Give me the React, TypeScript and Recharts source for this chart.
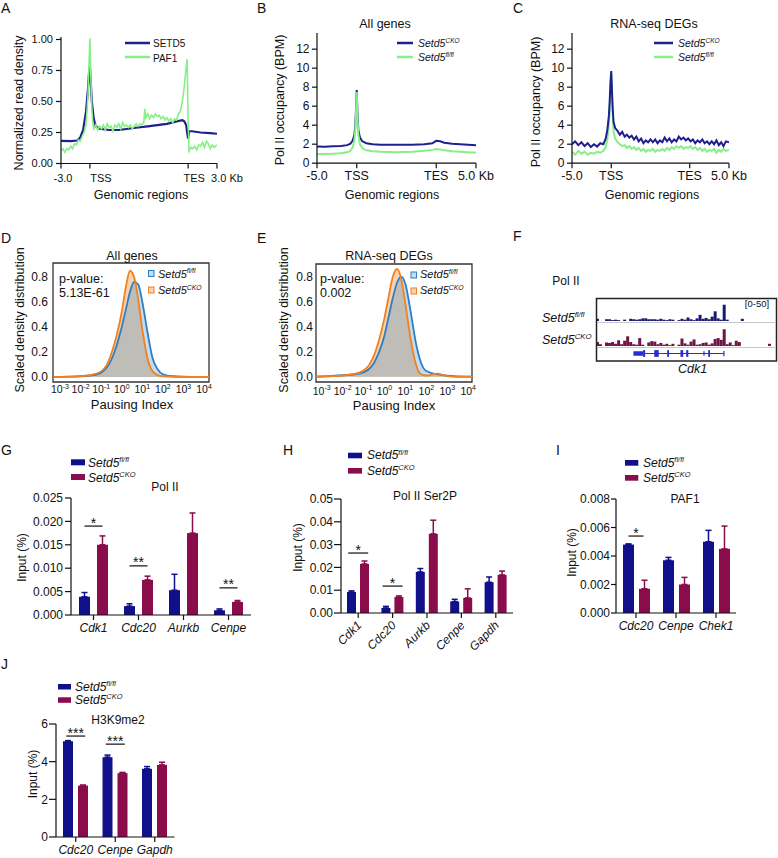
import React from "react";
import {
  LineChart,
  Line,
  XAxis,
  YAxis,
  ComposedChart,
  Area,
  BarChart,
  Bar,
  ErrorBar,
  ReferenceDot,
  ReferenceArea,
  ReferenceLine,
} from "recharts";

const FONT = "'Liberation Sans', Arial, Helvetica, sans-serif";
const INK = "#111";
const NAVY = "#1f1f8f";
const LIME = "#86ef86";
const BAR_FL = "#10108a";
const BAR_CKO = "#8a0c4a";
const D_BLUE = "#2e7ec4";
const D_ORANGE = "#f2801e";
const D_BLUE_FILL = "#c2dcf0";
const D_ORANGE_FILL = "#f8d3b2";
const D_OVERLAP = "#bfbdb7";
const TRACK_FL = "#1a1a70";
const TRACK_CKO = "#701443";
const GENE = "#2b2bd0";
const AX = { stroke: INK, strokeWidth: 1.2 };

// ---------- A: metagene SETD5 / PAF1 (bins: -3kb=0, TSS=30, TES=132, +3kb=162)
const aTicks = [0, 30, 132, 162];
const aTickNames = ["-3.0", "TSS", "TES", "3.0 Kb"];
const aYTicks = [0, 0.25, 0.5, 0.75, 1.0];
const aSetd5X = [0, 10, 17, 20, 23, 26, 28, 29, 30, 31, 32, 34, 36, 40, 50, 60, 70, 80, 90, 100, 110, 120, 126, 128, 130, 131, 132, 133, 136, 145, 155, 162];
const aSetd5Y = [0.183, 0.18, 0.185, 0.21, 0.27, 0.42, 0.6, 0.72, 0.78, 0.65, 0.5, 0.36, 0.3, 0.28, 0.27, 0.27, 0.28, 0.29, 0.3, 0.31, 0.32, 0.34, 0.35, 0.34, 0.31, 0.25, 0.2, 0.26, 0.26, 0.25, 0.245, 0.24];
const aPaf1X = [0, 2, 4, 6, 8, 10, 12, 14, 16, 18, 20, 22, 24, 26, 27, 28, 29, 30, 31, 32, 33, 34, 36, 38, 40, 42, 44, 46, 48, 50, 52, 54, 56, 58, 60, 62, 64, 66, 68, 70, 72, 74, 76, 78, 80, 82, 84, 86, 87, 88, 90, 92, 94, 96, 98, 100, 102, 104, 106, 108, 110, 112, 114, 116, 118, 120, 122, 124, 126, 128, 130, 131, 132, 133, 135, 137, 139, 141, 143, 145, 147, 149, 151, 153, 155, 157, 159, 162];
const aPaf1Y = [0.1, 0.12, 0.09, 0.12, 0.11, 0.14, 0.12, 0.16, 0.15, 0.19, 0.18, 0.22, 0.25, 0.32, 0.42, 0.55, 0.78, 1.01, 0.7, 0.45, 0.33, 0.28, 0.31, 0.27, 0.3, 0.28, 0.31, 0.27, 0.32, 0.29, 0.3, 0.26, 0.31, 0.29, 0.32, 0.28, 0.33, 0.3, 0.31, 0.29, 0.31, 0.28, 0.3, 0.32, 0.3, 0.32, 0.31, 0.33, 0.44, 0.37, 0.4, 0.36, 0.39, 0.37, 0.4, 0.38, 0.39, 0.36, 0.38, 0.35, 0.37, 0.34, 0.36, 0.33, 0.36, 0.35, 0.4, 0.42, 0.5, 0.62, 0.78, 0.84, 0.35, 0.1, 0.13, 0.12, 0.14, 0.11, 0.15, 0.14, 0.17, 0.13, 0.18, 0.16, 0.12, 0.15, 0.13, 0.15];

// ---------- B / C: Pol II occupancy (bins: -5kb=0, TSS=50, TES=150, +5kb=200)
const bcTicks = [0, 50, 150, 200];
const bcTickNames = ["-5.0", "TSS", "TES", "5.0 Kb"];
const bcYTicks = [0, 2, 4, 6, 8, 10, 12];
const bX = [0, 10, 20, 30, 38, 42, 45, 47, 48, 49, 50, 51, 52, 54, 57, 62, 70, 80, 100, 120, 135, 145, 150, 155, 160, 170, 180, 190, 200];
const bCko = [1.75, 1.72, 1.78, 1.8, 1.9, 2.05, 2.4, 3.0, 3.8, 5.5, 7.7, 5.0, 3.5, 2.7, 2.3, 2.1, 2.0, 1.95, 1.95, 1.95, 2.0, 2.1, 2.35, 2.3, 2.15, 2.05, 2.0, 1.95, 1.9];
const bFl = [0.95, 0.97, 1.0, 1.05, 1.15, 1.3, 1.7, 2.4, 3.3, 5.2, 7.5, 4.6, 3.0, 2.0, 1.6, 1.35, 1.25, 1.2, 1.15, 1.2, 1.3, 1.4, 1.5, 1.45, 1.35, 1.25, 1.2, 1.15, 1.1];
const cX = [0, 4, 8, 12, 16, 20, 24, 28, 32, 36, 40, 43, 45, 47, 48, 49, 50, 51, 52, 53, 55, 58, 61, 64, 67, 70, 73, 76, 79, 82, 85, 88, 91, 94, 97, 100, 103, 106, 109, 112, 115, 118, 121, 124, 127, 130, 133, 136, 139, 142, 145, 148, 151, 154, 157, 160, 163, 166, 169, 172, 175, 178, 181, 184, 187, 190, 193, 196, 200];
const cCko = [2.0, 2.3, 1.9, 2.2, 1.8, 2.1, 1.7, 2.0, 1.75, 2.1, 2.0, 2.6, 3.5, 5.0, 6.5, 8.5, 9.7, 7.5, 5.5, 4.3, 3.7, 3.4, 3.0, 3.3, 2.8, 3.0, 2.7, 2.9, 2.5, 2.8, 2.3, 2.6, 2.1, 2.4, 2.2, 2.5, 2.2, 2.5, 2.1, 2.4, 2.2, 2.7, 2.3, 2.6, 2.2, 2.5, 2.3, 2.8, 2.5, 2.7, 2.4, 2.6, 2.3, 2.5, 2.1, 2.4, 2.2, 2.5, 2.1, 2.3, 2.0, 2.3, 2.0, 2.4, 1.9, 2.2, 1.8, 2.3, 2.2];
const cFl = [1.2, 0.9, 1.3, 1.0, 1.2, 0.9, 1.1, 1.0, 1.2, 1.1, 1.3, 1.7, 2.5, 4.0, 5.5, 7.8, 9.3, 7.0, 4.8, 3.3, 2.6, 2.2, 2.0, 1.8, 1.9, 1.6, 1.8, 1.5, 1.7, 1.4, 1.6, 1.3, 1.5, 1.2, 1.4, 1.3, 1.5, 1.2, 1.4, 1.3, 1.5, 1.3, 1.6, 1.4, 1.7, 1.5, 1.8, 1.6, 1.8, 1.5, 1.7, 1.6, 1.8, 1.5, 1.7, 1.4, 1.6, 1.3, 1.5, 1.2, 1.4, 1.3, 1.5, 1.1, 1.4, 1.2, 1.5, 1.3, 1.4];

// ---------- D / E: pausing index densities (x = log10 pausing index)
const dX = [-3.3, -3, -2.5, -2, -1.5, -1, -0.75, -0.5, -0.25, 0, 0.2, 0.4, 0.6, 0.8, 1, 1.25, 1.5, 1.75, 2, 2.5, 3, 3.5, 4, 4.3];
const dTicks = [-3, -2, -1, 0, 1, 2, 3, 4];
const dYTicks = [0, 0.2, 0.4, 0.6, 0.8];
const dFl = [0, 0.001, 0.003, 0.006, 0.012, 0.035, 0.07, 0.14, 0.25, 0.4, 0.54, 0.68, 0.76, 0.74, 0.6, 0.36, 0.15, 0.06, 0.022, 0.006, 0.002, 0.001, 0, 0];
const dCko = [0, 0.001, 0.003, 0.007, 0.016, 0.045, 0.09, 0.19, 0.33, 0.52, 0.72, 0.85, 0.8, 0.62, 0.38, 0.15, 0.045, 0.015, 0.006, 0.002, 0.001, 0, 0, 0];
const eFl = [0, 0.002, 0.006, 0.012, 0.018, 0.035, 0.06, 0.11, 0.2, 0.33, 0.48, 0.63, 0.75, 0.8, 0.74, 0.52, 0.27, 0.11, 0.045, 0.02, 0.008, 0.003, 0.001, 0];
const eCko = [0, 0.002, 0.005, 0.01, 0.02, 0.05, 0.09, 0.17, 0.3, 0.47, 0.64, 0.8, 0.86, 0.78, 0.58, 0.3, 0.1, 0.02, 0.01, 0.025, 0.005, 0, 0, 0];

// ---------- F: Pol II browser tracks at Cdk1 (60 bins, scale 0-50)
const fTrackFl = [5, 0, 0, 4, 4, 2, 3, 2, 0, 3, 0, 5, 4, 3, 4, 6, 6, 4, 4, 4, 3, 5, 3, 2, 4, 3, 0, 2, 5, 3, 8, 4, 2, 6, 14, 5, 7, 4, 10, 22, 6, 3, 37, 3, 0, 0, 0, 0, 5, 0, 0, 0, 0, 0, 0, 0, 0, 0, 0, 0];
const fTrackCko = [9, 4, 0, 8, 7, 9, 5, 13, 4, 12, 22, 9, 4, 3, 18, 3, 0, 8, 11, 10, 4, 7, 3, 5, 2, 5, 0, 3, 17, 6, 3, 10, 15, 3, 4, 7, 8, 3, 6, 16, 18, 14, 38, 4, 8, 2, 12, 9, 0, 0, 0, 0, 0, 0, 0, 0, 0, 5, 0, 0];
const exonStart = [12.4, 15.6, 19.3, 23.6, 28.0, 29.9, 35.6, 37.2];
const exonEnd = [15.6, 16.3, 20.8, 24.2, 28.9, 30.6, 36.0, 37.8];
const exonHalf = [0.3, 0.45, 0.45, 0.45, 0.45, 0.45, 0.3, 0.45];
const intron = [16.3, 42.4];

// ---------- G-J: ChIP-qPCR (Input %), upper error = SD
const gGenes = ["Cdk1", "Cdc20", "Aurkb", "Cenpe"];
const gFl = [0.0039, 0.0019, 0.0053, 0.001];
const gFlErr = [0.0009, 0.0005, 0.0034, 0.0003];
const gCko = [0.015, 0.0075, 0.0175, 0.0028];
const gCkoErr = [0.0019, 0.0008, 0.0043, 0.0003];
const gSigGene = ["Cdk1", "Cdc20", "Cenpe"];
const gSigY = [0.019, 0.0105, 0.0058];
const gSigText = ["*", "**", "**"];

const hGenes = ["Cdk1", "Cdc20", "Aurkb", "Cenpe", "Gapdh"];
const hFl = [0.0092, 0.0022, 0.018, 0.005, 0.0135];
const hFlErr = [0.0005, 0.0007, 0.0015, 0.001, 0.0023];
const hCko = [0.0215, 0.007, 0.0347, 0.0066, 0.0167];
const hCkoErr = [0.0013, 0.0005, 0.006, 0.004, 0.0017];
const hSigGene = ["Cdk1", "Cdc20"];
const hSigY = [0.0263, 0.0118];
const hSigText = ["*", "*"];

const iGenes = ["Cdc20", "Cenpe", "Chek1"];
const iFl = [0.0048, 0.0037, 0.005];
const iFlErr = [0.00005, 0.0002, 0.0008];
const iCko = [0.0017, 0.002, 0.0045];
const iCkoErr = [0.0006, 0.0005, 0.0016];
const iSigGene = ["Cdc20"];
const iSigY = [0.0054];
const iSigText = ["*"];

const jGenes = ["Cdc20", "Cenpe", "Gapdh"];
const jFl = [5.08, 4.24, 3.62];
const jFlErr = [0.04, 0.11, 0.12];
const jCko = [2.73, 3.39, 3.83];
const jCkoErr = [0.03, 0.04, 0.14];
const jSigGene = ["Cdc20", "Cenpe"];
const jSigY = [5.36, 4.93];
const jSigText = ["***", "***"];

const toRows = (xs: number[], ys: number[]) => xs.map((x, i) => ({ x, y: ys[i] }));

// chart box so that the plot area lands on l..r / t..b
const place = (l: number, t: number, r: number, b: number, yw: number, xh: number, mr = 30) => ({
  style: { position: "absolute" as const, left: l - yw - 4, top: t - 8 },
  width: r - l + yw + 4 + mr,
  height: b - t + 8 + xh,
  margin: { top: 8, right: mr, left: 4, bottom: 0 },
});

const NumTick = ({ x, y, payload, size = 12, digits = 0 }: any) => (
  <text x={x} y={y} dy="0.355em" textAnchor="end" fontSize={size} fontFamily={FONT} fill={INK}>
    {Number(payload.value).toFixed(digits)}
  </text>
);

const RegionTick = ({ x, y, payload, ticks, names, shift, size }: any) => {
  const i = ticks.indexOf(payload.value);
  return (
    <text x={x + (shift ? shift[i] : 0)} y={y} dy="0.71em" textAnchor="middle" fontSize={size} fontFamily={FONT} fill={INK}>
      {names[i]}
    </text>
  );
};

const PowTick = ({ x, y, payload }: any) => (
  <text x={x} y={y} dy="0.71em" textAnchor="middle" fontSize={10.5} fontFamily={FONT} fill={INK}>
    10
    <tspan fontSize={7} dy={-4.5}>{payload.value}</tspan>
  </text>
);

const GeneTick = ({ x, y, payload, rotate }: any) =>
  rotate ? (
    <text transform={`translate(${x + 4},${y + 6}) rotate(-45)`} textAnchor="end" fontSize={12} fontStyle="italic" fontFamily={FONT} fill={INK}>
      {payload.value}
    </text>
  ) : (
    <text x={x} y={y} dy="0.71em" textAnchor="middle" fontSize={12} fontStyle="italic" fontFamily={FONT} fill={INK}>
      {payload.value}
    </text>
  );

const SigMark = ({ cx, cy, half, label }: any) => (
  <g>
    <line x1={cx - half} x2={cx + half} y1={cy} y2={cy} stroke="#222" strokeWidth={1.3} />
    <text x={cx} y={cy + 1.5} textAnchor="middle" fontSize={14} fontFamily={FONT} fill={INK}>
      {label}
    </text>
  </g>
);

function PanelA() {
  const p = place(61, 36.5, 217, 163, 55, 40, 45);
  return (
    <div style={p.style}>
      <LineChart width={p.width} height={p.height} margin={p.margin}>
        <XAxis
          type="number"
          dataKey="x"
          domain={[0, 162]}
          ticks={aTicks}
          interval={0}
          allowDataOverflow
          height={40}
          tickSize={5}
          tickMargin={5.7}
          axisLine={AX}
          tickLine={AX}
          tick={(t: any) => <RegionTick {...t} ticks={aTicks} names={aTickNames} shift={[2, 11, 6, 10]} size={11} />}
        />
        <YAxis
          type="number"
          domain={[0, 1.02]}
          ticks={aYTicks}
          interval={0}
          allowDataOverflow
          width={55}
          tickSize={5}
          tickMargin={3}
          axisLine={AX}
          tickLine={AX}
          tick={(t: any) => <NumTick {...t} size={11} digits={2} />}
        />
        <Line data={toRows(aSetd5X, aSetd5Y)} dataKey="y" type="linear" stroke={NAVY} strokeWidth={2.2} dot={false} isAnimationActive={false} />
        <Line data={toRows(aPaf1X, aPaf1Y)} dataKey="y" type="linear" stroke={LIME} strokeWidth={1.6} dot={false} isAnimationActive={false} />
      </LineChart>
    </div>
  );
}

function ProfilePanel({ l, r, xs, cko, fl, ckoOnTop }: any) {
  const p = place(l, 32.8, r, 163, 50, 40, 40);
  const ckoLine = (
    <Line key="cko" data={toRows(xs, cko)} dataKey="y" type="linear" stroke={NAVY} strokeWidth={2} dot={false} isAnimationActive={false} />
  );
  const flLine = (
    <Line key="fl" data={toRows(xs, fl)} dataKey="y" type="linear" stroke={LIME} strokeWidth={2} dot={false} isAnimationActive={false} />
  );
  return (
    <div style={p.style}>
      <LineChart width={p.width} height={p.height} margin={p.margin}>
        <XAxis
          type="number"
          dataKey="x"
          domain={[0, 200]}
          ticks={bcTicks}
          interval={0}
          allowDataOverflow
          height={40}
          tickSize={5}
          tickMargin={3}
          axisLine={AX}
          tickLine={AX}
          tick={(t: any) => <RegionTick {...t} ticks={bcTicks} names={bcTickNames} size={12.5} />}
        />
        <YAxis
          type="number"
          domain={[0, 13.7]}
          ticks={bcYTicks}
          interval={0}
          allowDataOverflow
          width={50}
          tickSize={5}
          tickMargin={2.5}
          axisLine={AX}
          tickLine={AX}
          tick={(t: any) => <NumTick {...t} size={12} />}
        />
        {ckoOnTop ? [flLine, ckoLine] : [ckoLine, flLine]}
      </LineChart>
    </div>
  );
}

function DensityPanel({ l, t, r, b, xDom, yDom, fl, cko, xMargin, yMargin }: any) {
  const p = place(l, t, r, b, 45, 30, 20);
  const rows = dX.map((x, i) => ({ x, fl: fl[i], cko: cko[i], both: Math.min(fl[i], cko[i]) }));
  return (
    <div style={p.style}>
      <ComposedChart width={p.width} height={p.height} margin={p.margin} data={rows}>
        <XAxis
          type="number"
          dataKey="x"
          domain={xDom}
          ticks={dTicks}
          interval={0}
          allowDataOverflow
          height={30}
          axisLine={false}
          tickLine={false}
          tickSize={0}
          tickMargin={xMargin}
          tick={(tp: any) => <PowTick {...tp} />}
        />
        <YAxis
          type="number"
          domain={yDom}
          ticks={dYTicks}
          interval={0}
          allowDataOverflow
          width={45}
          axisLine={false}
          tickLine={false}
          tickSize={0}
          tickMargin={yMargin}
          tick={(tp: any) => <NumTick {...tp} size={12} digits={1} />}
        />
        <Area dataKey="fl" type="monotone" fill={D_BLUE_FILL} fillOpacity={1} stroke="none" isAnimationActive={false} />
        <Area dataKey="cko" type="monotone" fill={D_ORANGE_FILL} fillOpacity={1} stroke="none" isAnimationActive={false} />
        <Area dataKey="both" type="monotone" fill={D_OVERLAP} fillOpacity={1} stroke="none" isAnimationActive={false} />
        <Line dataKey="fl" type="monotone" stroke={D_BLUE} strokeWidth={1.8} dot={false} isAnimationActive={false} />
        <Line dataKey="cko" type="monotone" stroke={D_ORANGE} strokeWidth={1.8} dot={false} isAnimationActive={false} />
        <ReferenceArea x1={xDom[0]} x2={xDom[1]} y1={yDom[0]} y2={yDom[1]} fill="none" stroke="#333" strokeWidth={1.3} ifOverflow="visible" />
      </ComposedChart>
    </div>
  );
}

function Track({ top, values, color }: any) {
  const rows = values.map((v: number, i: number) => ({ bin: i, v }));
  return (
    <div style={{ position: "absolute", left: 596, top }}>
      <BarChart width={181} height={22} data={rows} margin={{ top: 0, right: 0, left: 0, bottom: 0 }} barCategoryGap={0}>
        <XAxis dataKey="bin" hide />
        <YAxis hide domain={[0, 50]} allowDataOverflow />
        <Bar dataKey="v" fill={color} isAnimationActive={false} />
      </BarChart>
    </div>
  );
}

function GeneModel() {
  const rows = fTrackFl.map((v, i) => ({ bin: i + 0.5, v }));
  return (
    <div style={{ position: "absolute", left: 596, top: 346 }}>
      <LineChart width={181} height={15} data={rows} margin={{ top: 0, right: 0, left: 0, bottom: 0 }}>
        <XAxis type="number" dataKey="bin" domain={[0, 60]} hide allowDataOverflow />
        <YAxis type="number" domain={[-1, 1]} hide allowDataOverflow />
        <ReferenceLine segment={[{ x: intron[0], y: 0 }, { x: intron[1], y: 0 }]} stroke={GENE} strokeWidth={1.2} ifOverflow="visible" />
        <ReferenceLine segment={[{ x: intron[1], y: -0.35 }, { x: intron[1], y: 0.35 }]} stroke={GENE} strokeWidth={1.2} ifOverflow="visible" />
        {exonStart.map((s, i) => (
          <ReferenceArea key={i} x1={s} x2={exonEnd[i]} y1={-exonHalf[i]} y2={exonHalf[i]} fill={GENE} fillOpacity={1} stroke="none" ifOverflow="visible" />
        ))}
      </LineChart>
    </div>
  );
}

function QpcrPanel({ box, genes, fl, flErr, cko, ckoErr, domain, ticks, digits, barSize, barGap, sigGene, sigY, sigText, half, rotate, yTick, xh }: any) {
  const p = place(box[0], box[1], box[2], box[3], 60, xh, 20);
  const rows = genes.map((g: string, i: number) => ({
    gene: g,
    fl: fl[i],
    flErr: [0, flErr[i]],
    cko: cko[i],
    ckoErr: [0, ckoErr[i]],
  }));
  return (
    <div style={p.style}>
      <BarChart width={p.width} height={p.height} margin={p.margin} data={rows} barGap={barGap}>
        <XAxis
          dataKey="gene"
          height={xh}
          interval={0}
          tickSize={5}
          tickMargin={rotate ? 2 : 3}
          axisLine={AX}
          tickLine={AX}
          tick={(t: any) => <GeneTick {...t} rotate={rotate} />}
        />
        <YAxis
          type="number"
          domain={domain}
          ticks={ticks}
          interval={0}
          allowDataOverflow
          width={60}
          tickSize={yTick[0]}
          tickMargin={yTick[1]}
          axisLine={AX}
          tickLine={AX}
          tick={(t: any) => <NumTick {...t} size={12} digits={digits} />}
        />
        <Bar dataKey="fl" fill={BAR_FL} barSize={barSize} isAnimationActive={false}>
          <ErrorBar dataKey="flErr" width={3} stroke={BAR_FL} strokeWidth={1.5} direction="y" isAnimationActive={false} />
        </Bar>
        <Bar dataKey="cko" fill={BAR_CKO} barSize={barSize} isAnimationActive={false}>
          <ErrorBar dataKey="ckoErr" width={3} stroke={BAR_CKO} strokeWidth={1.5} direction="y" isAnimationActive={false} />
        </Bar>
        {sigGene.map((g: string, i: number) => (
          <ReferenceDot
            key={g}
            x={g}
            y={sigY[i]}
            ifOverflow="visible"
            shape={(sp: any) => <SigMark {...sp} half={half} label={sigText[i]} />}
          />
        ))}
      </BarChart>
    </div>
  );
}

const T = ({ x, y, s = 12, a = "start", it = false, r = 0, children }: any) => (
  <text
    x={x}
    y={y}
    fontSize={s}
    textAnchor={a}
    fontStyle={it ? "italic" : "normal"}
    transform={r ? `rotate(${r} ${x} ${y})` : undefined}
    fontFamily={FONT}
    fill={INK}
  >
    {children}
  </text>
);

const Geno = ({ sup, s }: any) => (
  <>
    <tspan fontStyle="italic">Setd5</tspan>
    <tspan fontStyle="italic" fontSize={s * 0.62} dy={-s * 0.4}>
      {sup}
    </tspan>
  </>
);

function Overlay() {
  const barLegend = (x: number, y1: number, y2: number, w: number, h: number, tx: number, b1: number, b2: number) => (
    <g>
      <rect x={x} y={y1} width={w} height={h} fill={BAR_FL} />
      <rect x={x} y={y2} width={w} height={h} fill={BAR_CKO} />
      <T x={tx} y={b1}>
        <Geno sup="fl/fl" s={12} />
      </T>
      <T x={tx} y={b2}>
        <Geno sup="CKO" s={12} />
      </T>
    </g>
  );
  return (
    <svg width={778} height={858} style={{ position: "absolute", left: 0, top: 0, pointerEvents: "none" }}>
      {/* panel letters */}
      <T x={1} y={13.3} s={14}>A</T>
      <T x={257} y={13.3} s={14}>B</T>
      <T x={513} y={13.3} s={14}>C</T>
      <T x={1} y={243} s={14}>D</T>
      <T x={257} y={243} s={14}>E</T>
      <T x={513} y={241} s={14}>F</T>
      <T x={1} y={455} s={14}>G</T>
      <T x={283} y={455} s={14}>H</T>
      <T x={556} y={455} s={14}>I</T>
      <T x={1} y={669} s={14}>J</T>

      {/* A */}
      <T x={22.5} y={103} s={12.5} a="middle" r={-90}>Normalized read density</T>
      <T x={141} y={199} s={12.5} a="middle">Genomic regions</T>
      <line x1={125} x2={150} y1={43} y2={43} stroke={NAVY} strokeWidth={2.5} />
      <line x1={125} x2={150} y1={57} y2={57} stroke={LIME} strokeWidth={2.5} />
      <T x={153} y={47} s={10}>SETD5</T>
      <T x={153} y={61.5} s={10}>PAF1</T>

      {/* B */}
      <T x={385} y={27.5} s={12.5} a="middle">All genes</T>
      <T x={284} y={100} s={12.5} a="middle" r={-90}>Pol II occupancy (BPM)</T>
      <T x={392} y={199} s={12.5} a="middle">Genomic regions</T>
      <line x1={397} x2={413} y1={43} y2={43} stroke={NAVY} strokeWidth={2.5} />
      <line x1={397} x2={413} y1={57} y2={57} stroke={LIME} strokeWidth={2.5} />
      <T x={418} y={47} s={10.5}><Geno sup="CKO" s={10.5} /></T>
      <T x={418} y={61} s={10.5}><Geno sup="fl/fl" s={10.5} /></T>

      {/* C */}
      <T x={654} y={27.5} s={12.5} a="middle">RNA-seq DEGs</T>
      <T x={540} y={102} s={12.5} a="middle" r={-90}>Pol II occupancy (BPM)</T>
      <T x={652} y={199} s={12.5} a="middle">Genomic regions</T>
      <line x1={654} x2={673} y1={43} y2={43} stroke={NAVY} strokeWidth={2.5} />
      <line x1={654} x2={673} y1={57} y2={57} stroke={LIME} strokeWidth={2.5} />
      <T x={678} y={47} s={10.5}><Geno sup="CKO" s={10.5} /></T>
      <T x={678} y={61} s={10.5}><Geno sup="fl/fl" s={10.5} /></T>

      {/* D */}
      <T x={132} y={260} s={12.5} a="middle">All genes</T>
      <T x={24} y={320} s={12.5} a="middle" r={-90}>Scaled density distribution</T>
      <T x={132} y={409} s={13} a="middle">Pausing Index</T>
      <T x={59} y={282.5} s={12.5}>p-value:</T>
      <T x={59} y={296.5} s={12.5}>5.13E-61</T>
      <rect x={148.5} y={270.5} width={5.5} height={6} fill={D_BLUE_FILL} stroke={D_BLUE} strokeWidth={1} />
      <rect x={148.5} y={287} width={5.5} height={6} fill={D_ORANGE_FILL} stroke={D_ORANGE} strokeWidth={1} />
      <T x={158} y={277.5} s={11}><Geno sup="fl/fl" s={11} /></T>
      <T x={158} y={294} s={11}><Geno sup="CKO" s={11} /></T>

      {/* E */}
      <T x={389} y={260} s={12.5} a="middle">RNA-seq DEGs</T>
      <T x={288} y={320} s={12.5} a="middle" r={-90}>Scaled density distribution</T>
      <T x={394} y={410} s={13} a="middle">Pausing Index</T>
      <T x={320} y={283} s={12.5}>p-value:</T>
      <T x={320} y={297} s={12.5}>0.002</T>
      <rect x={411} y={272} width={5.5} height={6} fill={D_BLUE_FILL} stroke={D_BLUE} strokeWidth={1} />
      <rect x={411} y={288} width={5.5} height={6} fill={D_ORANGE_FILL} stroke={D_ORANGE} strokeWidth={1} />
      <T x={420} y={278} s={11}><Geno sup="fl/fl" s={11} /></T>
      <T x={420} y={294} s={11}><Geno sup="CKO" s={11} /></T>

      {/* F */}
      <T x={566} y={285} s={12} a="middle">Pol II</T>
      <rect x={596.5} y={298.5} width={180} height={62.5} fill="none" stroke="#222" strokeWidth={1.5} />
      <line x1={597} x2={776} y1={322.5} y2={322.5} stroke="#c8c8c8" strokeWidth={1} />
      <line x1={597} x2={776} y1={347.5} y2={347.5} stroke="#c8c8c8" strokeWidth={1} />
      <T x={757} y={306.5} s={9.5} a="middle">[0-50]</T>
      <T x={542} y={321.5} s={12.5}><Geno sup="fl/fl" s={12.5} /></T>
      <T x={542} y={344} s={12.5}><Geno sup="CKO" s={12.5} /></T>
      <T x={692.5} y={373} s={12.5} a="middle" it>Cdk1</T>

      {/* G */}
      {barLegend(71, 459.3, 474, 14, 6, 88, 467, 482)}
      <T x={165} y={491} s={12} a="middle">Pol II</T>
      <T x={26} y={557.5} s={12} a="middle" r={-90}>Input (%)</T>

      {/* H */}
      {barLegend(348, 452.7, 468, 14, 5.6, 367, 459.3, 475)}
      <T x={425} y={500} s={12} a="middle">Pol II Ser2P</T>
      <T x={302} y={547.5} s={12} a="middle" r={-90}>Input (%)</T>

      {/* I */}
      {barLegend(625, 460, 475, 13.3, 5.7, 643, 466.7, 482)}
      <T x={685} y={503} s={12} a="middle">PAF1</T>
      <T x={576} y={552.5} s={12} a="middle" r={-90}>Input (%)</T>

      {/* J */}
      {barLegend(58, 684, 697.3, 13, 5.5, 75, 690.7, 704)}
      <T x={118} y={724} s={12} a="middle">H3K9me2</T>
      <T x={37} y={774} s={12} a="middle" r={-90}>Input (%)</T>
    </svg>
  );
}

export default function App() {
  return (
    <div
      style={{
        position: "absolute",
        left: 0,
        top: 0,
        width: 778,
        height: 858,
        overflow: "hidden",
        background: "#fff",
        fontFamily: FONT,
      }}
    >
      <PanelA />
      <ProfilePanel l={317} r={476} xs={bX} cko={bCko} fl={bFl} ckoOnTop={false} />
      <ProfilePanel l={572} r={729} xs={cX} cko={cCko} fl={cFl} ckoOnTop={true} />
      <DensityPanel l={53} t={263} r={209} b={382} xDom={[-3.34, 4.24]} yDom={[-0.04, 0.912]} fl={dFl} cko={dCko} xMargin={4} yMargin={5} />
      <DensityPanel l={316} t={264} r={472} b={382} xDom={[-3.27, 4.18]} yDom={[-0.042, 0.9]} fl={eFl} cko={eCko} xMargin={5.5} yMargin={3} />
      <Track top={299} values={fTrackFl} color={TRACK_FL} />
      <Track top={324} values={fTrackCko} color={TRACK_CKO} />
      <GeneModel />
      <QpcrPanel
        box={[71, 498, 251, 615]}
        genes={gGenes}
        fl={gFl}
        flErr={gFlErr}
        cko={gCko}
        ckoErr={gCkoErr}
        domain={[0, 0.025]}
        ticks={[0, 0.005, 0.01, 0.015, 0.02, 0.025]}
        digits={3}
        barSize={11}
        barGap={7}
        sigGene={gSigGene}
        sigY={gSigY}
        sigText={gSigText}
        half={9}
        rotate={false}
        yTick={[6, 2]}
        xh={30}
      />
      <QpcrPanel
        box={[341, 499, 513, 613]}
        genes={hGenes}
        fl={hFl}
        flErr={hFlErr}
        cko={hCko}
        ckoErr={hCkoErr}
        domain={[0, 0.05]}
        ticks={[0, 0.01, 0.02, 0.03, 0.04, 0.05]}
        digits={2}
        barSize={9}
        barGap={4}
        sigGene={hSigGene}
        sigY={hSigY}
        sigText={hSigText}
        half={10}
        rotate={true}
        yTick={[7, 1]}
        xh={50}
      />
      <QpcrPanel
        box={[616, 499, 736, 613]}
        genes={iGenes}
        fl={iFl}
        flErr={iFlErr}
        cko={iCko}
        ckoErr={iCkoErr}
        domain={[0, 0.008]}
        ticks={[0, 0.002, 0.004, 0.006, 0.008]}
        digits={3}
        barSize={11}
        barGap={5}
        sigGene={iSigGene}
        sigY={iSigY}
        sigText={iSigText}
        half={7.5}
        rotate={false}
        yTick={[5, 1]}
        xh={30}
      />
      <QpcrPanel
        box={[56, 724, 174.5, 837]}
        genes={jGenes}
        fl={jFl}
        flErr={jFlErr}
        cko={jCko}
        ckoErr={jCkoErr}
        domain={[0, 6]}
        ticks={[0, 2, 4, 6]}
        digits={0}
        barSize={10}
        barGap={5}
        sigGene={jSigGene}
        sigY={jSigY}
        sigText={jSigText}
        half={9.5}
        rotate={false}
        yTick={[7, 1]}
        xh={25}
      />
      <Overlay />
    </div>
  );
}
